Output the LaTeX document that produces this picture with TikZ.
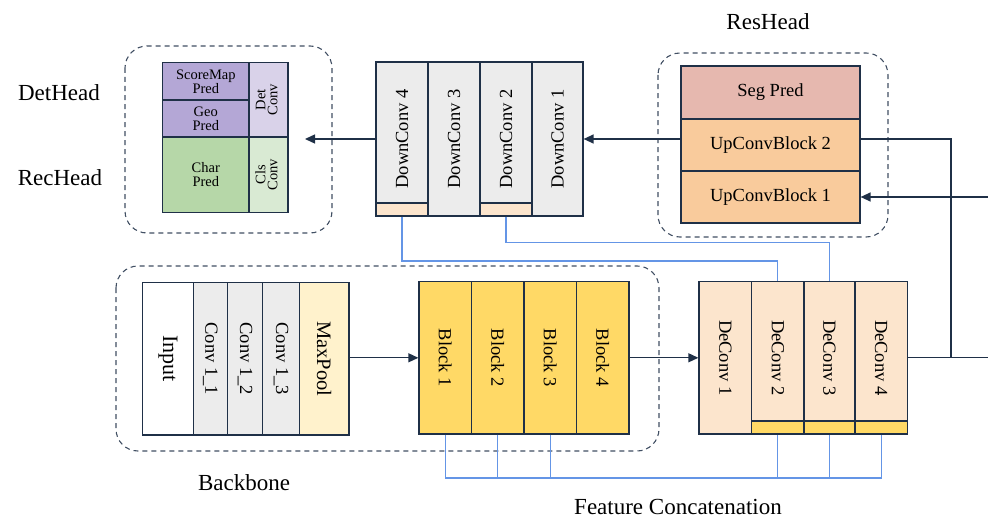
\documentclass[tikz,border=0pt]{standalone}
\usepackage{fontspec}
\usepackage{graphicx}
\setmainfont{Liberation Serif}
\usetikzlibrary{arrows.meta,calc}
\definecolor{navy}{RGB}{31,48,71}
\definecolor{lnblue}{RGB}{100,149,230}
\definecolor{grayf}{RGB}{236,236,236}
\definecolor{yelf}{RGB}{255,217,102}
\definecolor{paley}{RGB}{255,242,204}
\definecolor{peach}{RGB}{252,229,205}
\definecolor{orangef}{RGB}{249,203,156}
\definecolor{segf}{RGB}{230,184,175}
\definecolor{purf}{RGB}{180,167,214}
\definecolor{lavf}{RGB}{217,210,233}
\definecolor{grnf}{RGB}{182,215,168}
\definecolor{lgrnf}{RGB}{217,234,211}
\tikzset{
  blk/.style={draw=navy, line width=1.2pt, inner sep=0pt, align=center},
  grp/.style={draw=navy!85, line width=1.1pt, dash pattern=on 5pt off 4pt, rounded corners=22pt},
  conn/.style={draw=navy, line width=1.3pt},
  arr/.style={conn, -{Triangle[length=10pt,width=9pt]}},
  bl/.style={draw=lnblue, line width=1.2pt},
  big/.style={font=\fontsize{18.5}{20}\selectfont},
  small/.style={font=\fontsize{14.5}{14}\selectfont},
  lbl/.style={font=\fontsize{23}{24}\selectfont, inner sep=0pt}
}
\newcommand{\up}[1]{\rotatebox{90}{#1}}
\newcommand{\dn}[1]{\rotatebox{-90}{#1}}
\begin{document}
\begin{tikzpicture}[x=1pt,y=-1pt]
\useasboundingbox (0,0) rectangle (988,519);
% ---------- group outlines
\draw[grp] (125,46) rectangle (332,233);
\draw[grp] (658,53) rectangle (888,237);
\draw[grp] (116,266) rectangle (659,451);
% ---------- labels
\node[lbl] (lDet) at (59,93) {DetHead};
\node[lbl] (lRec) at (60,178) {RecHead};
\node[lbl] (lRes) at (768,22) {ResHead};
\node[lbl] (lBack) at (244,483) {Backbone};
\node[lbl] (lFeat) at (678,507) {Feature Concatenation};
% ---------- DetHead / RecHead
\node[blk, small, fill=purf, minimum width=86.3pt, minimum height=37.3pt] (score) at (205.8,81.3) {ScoreMap\\Pred};
\node[blk, small, fill=purf, minimum width=86.3pt, minimum height=36.7pt] (geo) at (205.8,118.3) {Geo\\Pred};
\node[blk, small, fill=grnf, minimum width=86.3pt, minimum height=75.7pt] (char) at (205.8,174.8) {Char\\Pred};
\node[blk, small, fill=lavf, minimum width=39pt, minimum height=74.3pt] (detc) at (268.5,99.8) {\up{\begin{tabular}{@{}c@{}}Det\\[-2pt]Conv\end{tabular}}};
\node[blk, small, fill=lgrnf, minimum width=39pt, minimum height=75.7pt] (clsc) at (268.5,174.8) {\up{\begin{tabular}{@{}c@{}}Cls\\[-2pt]Conv\end{tabular}}};
% ---------- DownConv
\node[blk, big, fill=grayf, minimum width=52pt, minimum height=154pt] (dc4) at (402,139) {\up{DownConv 4}};
\node[blk, big, fill=grayf, minimum width=52pt, minimum height=154pt] (dc3) at (454,139) {\up{DownConv 3}};
\node[blk, big, fill=grayf, minimum width=52pt, minimum height=154pt] (dc2) at (506,139) {\up{DownConv 2}};
\node[blk, big, fill=grayf, minimum width=51pt, minimum height=154pt] (dc1) at (557.5,139) {\up{DownConv 1}};
\node[blk, fill=peach, minimum width=52pt, minimum height=13pt] (dc4bar) at (402,209.5) {};
\node[blk, fill=peach, minimum width=52pt, minimum height=13pt] (dc2bar) at (506,209.5) {};
% ---------- ResHead
\node[blk, big, fill=segf, minimum width=179pt, minimum height=53pt] (seg) at (770.5,92.5) {Seg Pred};
\node[blk, big, fill=orangef, minimum width=179pt, minimum height=52pt] (up2) at (770.5,145) {UpConvBlock 2};
\node[blk, big, fill=orangef, minimum width=179pt, minimum height=52pt] (up1) at (770.5,197) {UpConvBlock 1};
% ---------- Backbone
\node[blk, font=\fontsize{22}{24}\selectfont, fill=white, minimum width=50.6pt, minimum height=152.7pt] (inp) at (168,358.7) {\dn{Input}};
\node[blk, big, fill=grayf, minimum width=34pt, minimum height=152.7pt] (c11) at (210.3,358.7) {\dn{Conv 1\_1}};
\node[blk, big, fill=grayf, minimum width=35.4pt, minimum height=152.7pt] (c12) at (245,358.7) {\dn{Conv 1\_2}};
\node[blk, big, fill=grayf, minimum width=36.6pt, minimum height=152.7pt] (c13) at (281,358.7) {\dn{Conv 1\_3}};
\node[blk, font=\fontsize{20.5}{22}\selectfont, fill=paley, minimum width=49.7pt, minimum height=152.7pt] (mp) at (324.2,358.7) {\dn{MaxPool}};
% ---------- Blocks
\node[blk, big, fill=yelf, minimum width=52.7pt, minimum height=152.3pt] (b1) at (445.3,357.8) {\dn{Block 1}};
\node[blk, big, fill=yelf, minimum width=52.3pt, minimum height=152.3pt] (b2) at (497.8,357.8) {\dn{Block 2}};
\node[blk, big, fill=yelf, minimum width=52.3pt, minimum height=152.3pt] (b3) at (550.1,357.8) {\dn{Block 3}};
\node[blk, big, fill=yelf, minimum width=52.7pt, minimum height=152.3pt] (b4) at (602.6,357.8) {\dn{Block 4}};
% ---------- DeConv
\node[blk, big, fill=peach, minimum width=52.7pt, minimum height=152.3pt] (dv1) at (725.3,357.8) {\dn{DeConv 1}};
\node[blk, big, fill=peach, minimum width=52.3pt, minimum height=152.3pt] (dv2) at (777.8,357.8) {\dn{DeConv 2}};
\node[blk, big, fill=peach, minimum width=51pt, minimum height=152.3pt] (dv3) at (829.5,357.8) {\dn{DeConv 3}};
\node[blk, big, fill=peach, minimum width=52.3pt, minimum height=152.3pt] (dv4) at (881.2,357.8) {\dn{DeConv 4}};
\node[blk, fill=yelf, minimum width=52.3pt, minimum height=13pt] (dv2bar) at (777.8,427.5) {};
\node[blk, fill=yelf, minimum width=51pt, minimum height=13pt] (dv3bar) at (829.5,427.5) {};
\node[blk, fill=yelf, minimum width=52.3pt, minimum height=13pt] (dv4bar) at (881.2,427.5) {};
% ---------- connectors
\coordinate (detin) at (305,139);
\draw[arr] (dc4.west) -- (detin);
\draw[arr] (dc1.east -| up2.west) -- (dc1.east);
\coordinate (jn) at (951,357.8);
\coordinate (jt) at (951,139);
\coordinate (redge) at (988,357.8);
\coordinate (redge2) at (988,197);
\draw[conn] (dv4.east) -- (redge);
\draw[conn] (jn) -- (jt) -- (jt -| up2.east);
\draw[arr] (redge2) -- (up1.east);
\draw[arr] (mp.east |- b1.west) -- (b1.west);
\draw[arr] (b4.east) -- (dv1.west);
% ---------- blue feature lines
\draw[bl] (dc4bar.south) -- (dc4bar.south |- 0,261) -| (dv2.north);
\draw[bl] (dc2bar.south) -- (dc2bar.south |- 0,242.7) -| (dv3.north);
\draw[bl] (b1.south) -- (b1.south |- 0,478) -| (dv4bar.south);
\draw[bl] (b2.south) -- (b2.south |- 0,478) -| (dv3bar.south);
\draw[bl] (b3.south) -- (b3.south |- 0,478) -| (dv2bar.south);
\end{tikzpicture}
\end{document}
